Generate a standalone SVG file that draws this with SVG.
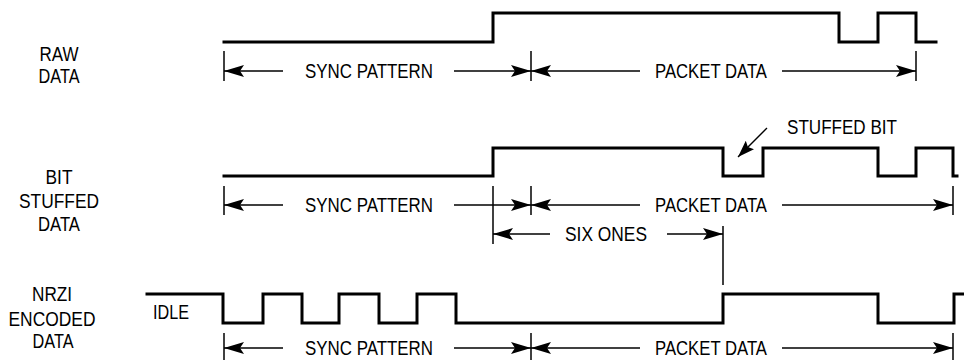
<svg xmlns="http://www.w3.org/2000/svg" width="964" height="360" viewBox="0 0 964 360">
<style>
.sig{fill:none;stroke:#000;stroke-width:3;stroke-linejoin:miter;stroke-linecap:square}
.dim{fill:none;stroke:#000;stroke-width:1.3}
.tick{fill:none;stroke:#000;stroke-width:1.5}
.lbl{font-family:"Liberation Sans",Arial,sans-serif;font-size:20px;fill:#000}
.mid{text-anchor:middle}
</style>
<defs>
<marker id="ah" viewBox="0 0 20 12" refX="20" refY="6" markerWidth="20" markerHeight="12" markerUnits="userSpaceOnUse" orient="auto-start-reverse">
<path d="M0,0 L20,6 L0,12 L4,6 z" fill="#000"/>
</marker>
<marker id="ah2" viewBox="0 0 17 12" refX="17" refY="6" markerWidth="17" markerHeight="12" markerUnits="userSpaceOnUse" orient="auto">
<path d="M0,0 L17,6 L0,12 L3,6 z" fill="#000"/>
</marker>
</defs>

<g id="labels">
<g id="raw-label"><text class="lbl mid" x="59" y="61" textLength="39" lengthAdjust="spacingAndGlyphs">RAW</text><text class="lbl mid" x="59" y="83" textLength="41" lengthAdjust="spacingAndGlyphs">DATA</text></g>
<g id="stuffed-label"><text class="lbl mid" x="59" y="184" textLength="27" lengthAdjust="spacingAndGlyphs">BIT</text><text class="lbl mid" x="59" y="208" textLength="80" lengthAdjust="spacingAndGlyphs">STUFFED</text><text class="lbl mid" x="59" y="231" textLength="42" lengthAdjust="spacingAndGlyphs">DATA</text></g>
<g id="nrzi-label"><text class="lbl mid" x="52" y="301" textLength="40" lengthAdjust="spacingAndGlyphs">NRZI</text><text class="lbl mid" x="52" y="326" textLength="87" lengthAdjust="spacingAndGlyphs">ENCODED</text><text class="lbl mid" x="53" y="348" textLength="41" lengthAdjust="spacingAndGlyphs">DATA</text></g>
</g>

<g id="signals">
<path id="raw" class="sig" d="M224,42 H493 V13 H839 V42 H878 V13 H916 V42 H936"/>
<path id="stuffed" class="sig" d="M224,176 H493 V148 H723 V176 H763 V148 H878 V176 H916 V148 H953 V176 H957"/>
<path id="nrzi" class="sig" d="M147,294 H223 V323 H263 V294 H302 V323 H339 V294 H379 V323 H417 V294 H456 V323 H723 V294 H878 V323 H954 V294 H964"/>
</g>

<g id="connectors">
<line class="tick" x1="224" y1="51" x2="224" y2="81"/>
<line class="tick" x1="531" y1="51" x2="531" y2="81"/>
<line class="tick" x1="916" y1="51" x2="916" y2="81"/>
<line class="dim" x1="283" y1="71" x2="224" y2="71" marker-end="url(#ah)"/>
<line class="dim" x1="454" y1="71" x2="531" y2="71" marker-end="url(#ah)"/>
<line class="dim" x1="640" y1="71" x2="531" y2="71" marker-end="url(#ah)"/>
<line class="dim" x1="782" y1="71" x2="916" y2="71" marker-end="url(#ah)"/>
<line class="tick" x1="224" y1="186" x2="224" y2="215"/>
<line class="tick" x1="493" y1="186" x2="493" y2="244"/>
<line class="tick" x1="531" y1="186" x2="531" y2="215"/>
<line class="tick" x1="953" y1="186" x2="953" y2="215"/>
<line class="tick" x1="723" y1="226" x2="723" y2="285"/>
<line class="dim" x1="283" y1="205" x2="224" y2="205" marker-end="url(#ah)"/>
<line class="dim" x1="454" y1="205" x2="531" y2="205" marker-end="url(#ah)"/>
<line class="dim" x1="640" y1="205" x2="531" y2="205" marker-end="url(#ah)"/>
<line class="dim" x1="782" y1="205" x2="953" y2="205" marker-end="url(#ah)"/>
<line class="dim" x1="550" y1="234" x2="493" y2="234" marker-end="url(#ah)"/>
<line class="dim" x1="667" y1="234" x2="723" y2="234" marker-end="url(#ah)"/>
<line class="dim" x1="767" y1="128" x2="738" y2="157" marker-end="url(#ah2)"/>
<line class="tick" x1="224" y1="333" x2="224" y2="360"/>
<line class="tick" x1="531" y1="333" x2="531" y2="360"/>
<line class="tick" x1="953" y1="333" x2="953" y2="360"/>
<line class="dim" x1="283" y1="348" x2="224" y2="348" marker-end="url(#ah)"/>
<line class="dim" x1="454" y1="348" x2="531" y2="348" marker-end="url(#ah)"/>
<line class="dim" x1="640" y1="348" x2="531" y2="348" marker-end="url(#ah)"/>
<line class="dim" x1="782" y1="348" x2="953" y2="348" marker-end="url(#ah)"/>
</g>

<g id="dim-labels">
<text class="lbl" x="305" y="78" textLength="128" lengthAdjust="spacingAndGlyphs">SYNC PATTERN</text>
<text class="lbl" x="655" y="78" textLength="112" lengthAdjust="spacingAndGlyphs">PACKET DATA</text>
<text class="lbl" x="305" y="212" textLength="128" lengthAdjust="spacingAndGlyphs">SYNC PATTERN</text>
<text class="lbl" x="655" y="212" textLength="112" lengthAdjust="spacingAndGlyphs">PACKET DATA</text>
<text class="lbl" x="565" y="241" textLength="82" lengthAdjust="spacingAndGlyphs">SIX ONES</text>
<text class="lbl" x="787" y="134" textLength="110" lengthAdjust="spacingAndGlyphs">STUFFED BIT</text>
<text class="lbl" x="153" y="319" textLength="36" lengthAdjust="spacingAndGlyphs">IDLE</text>
<text class="lbl" x="305" y="355" textLength="128" lengthAdjust="spacingAndGlyphs">SYNC PATTERN</text>
<text class="lbl" x="655" y="355" textLength="112" lengthAdjust="spacingAndGlyphs">PACKET DATA</text>
</g>
</svg>
